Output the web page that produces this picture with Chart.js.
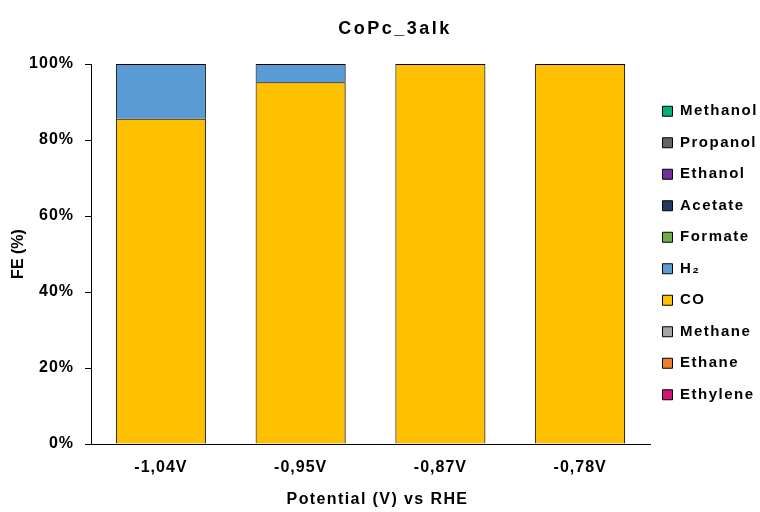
<!DOCTYPE html>
<html>
<head>
<meta charset="utf-8">
<script src="https://cdn.jsdelivr.net/npm/chart.js@4"></script>
<style>
  html, body { margin: 0; padding: 0; background: #fff; }
  #wrap { width: 760px; height: 512px; }
</style>
</head>
<body>
<div id="wrap"><canvas id="c"></canvas></div>
<script>
// Potentials (V vs RHE) and Faradaic efficiencies (%) per product
const potentials = ['-1,04V', '-0,95V', '-0,87V', '-0,78V'];
const ethylene = [0, 0, 0, 0];
const ethane   = [0, 0, 0, 0];
const methane  = [0, 0, 0, 0];
const co       = [85.6, 95.2, 100, 100];
const h2       = [14.4, 4.8, 0, 0];
const formate  = [0, 0, 0, 0];
const acetate  = [0, 0, 0, 0];
const ethanol  = [0, 0, 0, 0];
const propanol = [0, 0, 0, 0];
const methanol = [0, 0, 0, 0];
const yTickValues = [0, 20, 40, 60, 80, 100];

const FONT = "'Liberation Sans', Arial, sans-serif";
Chart.defaults.font.family = FONT;
Chart.defaults.color = '#000';

// stacked from bottom to top
const series = [
  { label: 'Ethylene', data: ethylene, color: '#D4127A' },
  { label: 'Ethane',   data: ethane,   color: '#ED7D31' },
  { label: 'Methane',  data: methane,  color: '#A5A5A5' },
  { label: 'CO',       data: co,       color: '#FFC000' },
  { label: 'H\u2082',  data: h2,       color: '#5B9BD5' },
  { label: 'Formate',  data: formate,  color: '#70AD47' },
  { label: 'Acetate',  data: acetate,  color: '#203864' },
  { label: 'Ethanol',  data: ethanol,  color: '#7030A0' },
  { label: 'Propanol', data: propanol, color: '#636363' },
  { label: 'Methanol', data: methanol, color: '#00B073' }
];

function spaced(fn, px, dx) {
  return function (...args) {
    const ctx = this.ctx;
    const prev = ctx.letterSpacing;
    ctx.save();
    if (dx) ctx.translate(dx, 0);
    ctx.letterSpacing = px;
    const r = fn.apply(this, args);
    ctx.restore();
    ctx.letterSpacing = prev;
    return r;
  };
}

// wide bold lettering, legend nudged toward the plot
const lettering = {
  id: 'lettering',
  beforeUpdate(chart) { chart.ctx.letterSpacing = '1px'; },
  beforeLayout(chart) { chart.ctx.letterSpacing = '1px'; },
  beforeDraw(chart) { chart.ctx.letterSpacing = '1px'; },
  afterLayout(chart) {
    const t = chart.titleBlock;
    if (t && !t._spaced) { t.draw = spaced(t.draw, '2.5px'); t._spaced = true; }
    const y = chart.scales.y;
    if (y && !y._spaced) { y.drawTitle = spaced(y.drawTitle, '0px'); y._spaced = true; }
    const x = chart.scales.x;
    if (x && !x._spaced) { x.drawTitle = spaced(x.drawTitle, '1.4px', 7); x._spaced = true; }
    const lg = chart.legend;
    if (lg) {
      if (!lg._spaced) { lg.draw = spaced(lg.draw, '1.5px'); lg._spaced = true; }
      lg.left -= 4; lg.right -= 4;
      lg.top -= 1; lg.bottom -= 1;
    }
  }
};

// soft grey halo around the bars
const barShadow = {
  id: 'barShadow',
  beforeDatasetsDraw(chart) {
    const ctx = chart.ctx;
    ctx.save();
    ctx.shadowColor = 'rgba(0,0,0,0.28)';
    ctx.shadowBlur = 2;
    ctx.shadowOffsetX = 1;
    ctx.shadowOffsetY = 0;
  },
  afterDatasetsDraw(chart) { chart.ctx.restore(); }
};

new Chart(document.getElementById('c'), {
  type: 'bar',
  data: {
    labels: potentials,
    datasets: series.map(s => ({
      label: s.label,
      data: s.data,
      backgroundColor: s.color,
      borderColor: '#000',
      borderWidth: 1,
      barPercentage: 0.644,
      categoryPercentage: 1
    }))
  },
  options: {
    responsive: true,
    maintainAspectRatio: false,
    animation: false,
    layout: { padding: { left: 30, right: 0, top: 0, bottom: 0 } },
    plugins: {
      title: {
        display: true,
        text: 'CoPc_3alk',
        color: '#000',
        font: { size: 18, weight: 'bold' },
        padding: { top: 18.2, bottom: 24.2 }
      },
      legend: {
        position: 'right',
        fullSize: false,
        reverse: true,
        maxWidth: 110,
        labels: {
          boxWidth: 10,
          boxHeight: 10,
          padding: 16.5,
          color: '#000',
          font: { size: 15, weight: 'bold' }
        }
      },
      tooltip: { enabled: false }
    },
    scales: {
      x: {
        stacked: true,
        offset: true,
        grid: { display: false, drawTicks: false },
        border: { display: true, color: '#000', width: 1 },
        ticks: { padding: 13.5, color: '#000', font: { size: 16, weight: 'bold' } },
        title: {
          display: true,
          text: 'Potential (V) vs RHE',
          color: '#000',
          font: { size: 16, weight: 'bold' },
          padding: { top: 0, bottom: 2.4 }
        },
        afterFit(s) { s.height = 68; }
      },
      y: {
        stacked: true,
        min: 0,
        max: 100,
        afterBuildTicks(s) { s.ticks = yTickValues.map(v => ({ value: v })); },
        grid: { display: true, drawOnChartArea: false, drawTicks: true, tickLength: 6, color: '#000' },
        border: { display: true, color: '#000', width: 1 },
        ticks: {
          padding: 11,
          color: '#000',
          font: { size: 16, weight: 'bold' },
          callback: v => v + '%'
        },
        title: {
          display: true,
          text: 'FE (%)',
          color: '#000',
          font: { size: 16, weight: 'bold' },
          padding: { top: -21, bottom: 0 }
        },
        afterFit(s) { s.width = 61; }
      }
    }
  },
  plugins: [lettering, barShadow]
});
</script>
</body>
</html>
